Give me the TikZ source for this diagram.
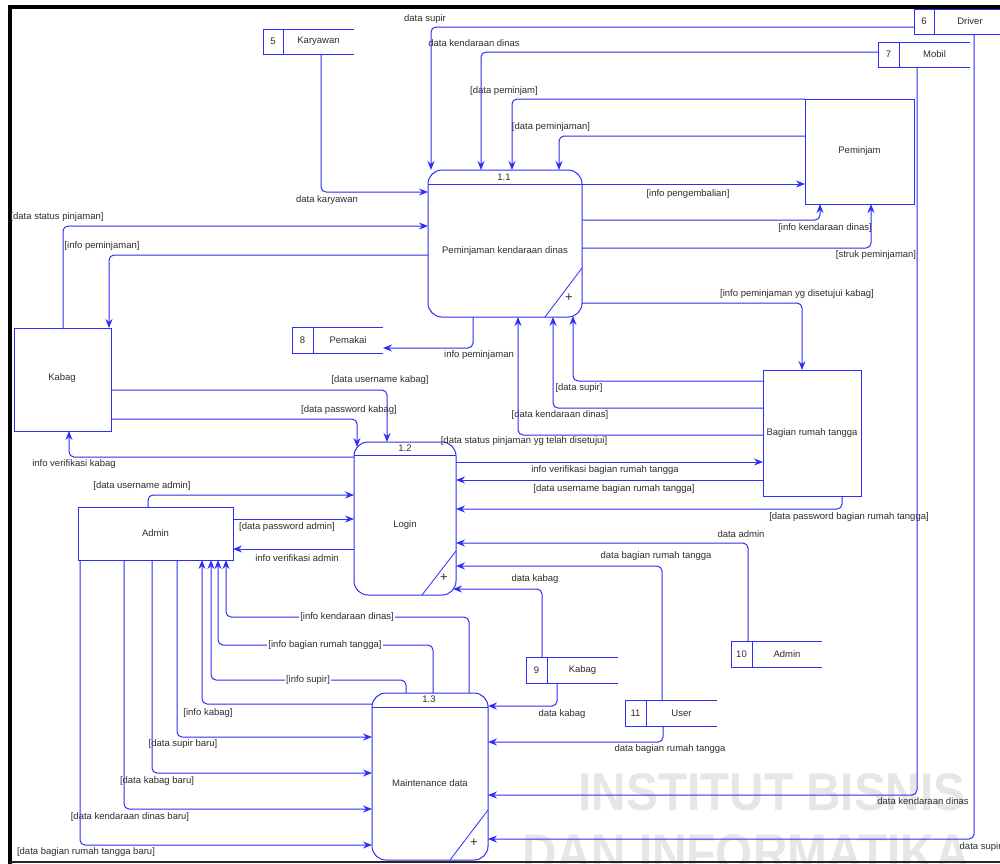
\documentclass[tikz,border=0pt]{standalone}
\usepackage{fontspec}
\setmainfont{Liberation Sans}
\usetikzlibrary{arrows.meta}
\definecolor{dfd}{RGB}{45,45,250}
\definecolor{txt}{RGB}{45,45,45}
\definecolor{wm}{RGB}{230,230,230}
\newcommand{\dstore}[8]{%
  \node[inner sep=0, outer sep=0, minimum width={#4-#2}, minimum height={#6-#5}, anchor=north west] (#1) at (#2,#5) {};
  \draw[dfd, line width=1pt] (#1.north east) -- (#1.north west) -- (#1.south west) -- (#1.south east);
  \draw[dfd, line width=1pt] (#3,#5) -- (#3,#6);
  \node (#1n) at ({(#2+#3)/2},{(#5+#6)/2}) {#7};
  \node (#1l) at ({(#3+#4)/2},{(#5+#6)/2}) {#8};
}
\begin{document}
\begin{tikzpicture}[x=1pt,y=-1pt,
  font=\fontsize{9.5}{11}\selectfont,
  every node/.style={text=txt},
  flow/.style={draw=dfd, line width=1pt, rounded corners=5pt, -{Stealth[length=9pt,width=7pt,inset=3pt]}},
  plain/.style={draw=dfd, line width=1pt},
  proc/.style={draw=dfd, line width=1pt, rounded corners=14pt, inner sep=0, outer sep=0},
  ext/.style={draw=dfd, line width=1pt, inner sep=0, outer sep=0},
  lbl/.style={inner sep=0.5pt},
  onl/.style={fill=white, inner sep=1pt},
  wmark/.style={text=wm, font=\fontsize{53}{60}\bfseries\selectfont, anchor=base, inner sep=0}
]
\clip (0,0) rectangle (1000,863);
\fill[white] (0,0) rectangle (1000,863);
% watermark text
\node[wmark] (wm1) at (772,810) {\scalebox{0.9}[1]{INSTITUT BISNIS}};
\node[wmark] (wm2) at (746,871) {\scalebox{0.9}[1]{DAN INFORMATIKA}};
% frame
\draw[black, line width=4pt] (1002,7) -- (8,7);
\draw[black, line width=4pt] (10,5) -- (10,865);
\draw[black!85, line width=1.5pt] (10,862) -- (1002,862);

% processes
\node[proc, minimum width=154, minimum height=147] (p11) at (505,243.5) {};
\node[proc, minimum width=102, minimum height=153] (p12) at (405,518.5) {};
\node[proc, minimum width=116, minimum height=167] (p13) at (430,776.5) {};
\draw[plain] (p11.west |- 0,184) -- (p11.east |- 0,184);
\draw[plain] (p12.west |- 0,455) -- (p12.east |- 0,455);
\draw[plain] (p13.west |- 0,707) -- (p13.east |- 0,707);
\draw[plain, line width=0.8pt] (p11.east |- 0,268) -- (545,0 |- p11.south);
\draw[plain, line width=0.8pt] (p12.east |- 0,551) -- (422,0 |- p12.south);
\draw[plain, line width=0.8pt] (p13.east |- 0,810) -- (450,0 |- p13.south);
\node (p11n) at (504,177) {1.1};
\node (p12n) at (405,448) {1.2};
\node (p13n) at (429,699.5) {1.3};
\node (p11t) at (505,251) {Peminjaman kendaraan dinas};
\node (p12t) at (405,525) {Login};
\node (p13t) at (430,783) {Maintenance data};
\node (p11p) at (569,298) {\fontsize{13}{13}\selectfont +};
\node (p12p) at (444,578) {\fontsize{13}{13}\selectfont +};
\node (p13p) at (474,843) {\fontsize{13}{13}\selectfont +};

% external entities
\node[ext, minimum width=109, minimum height=105] (pem) at (859.5,151.5) {Peminjam};
\node[ext, minimum width=97, minimum height=103] (kabag) at (62.5,379.5) {};
\node (kabagt) at (62,378) {Kabag};
\node[ext, minimum width=155, minimum height=53] (admin) at (155.5,533.5) {Admin};
\node[ext, minimum width=98, minimum height=126] (brt) at (812,433) {Bagian rumah tangga};

% data stores
\dstore{s5}{263}{283}{354}{29}{54}{5}{Karyawan}
\dstore{s6}{914}{934}{1006}{9}{34}{6}{Driver}
\dstore{s7}{878}{899}{970}{42}{67}{7}{Mobil}
\dstore{s8}{292}{313}{383}{327}{353}{8}{Pemakai}
\dstore{s9}{526}{547}{618}{657}{683}{9}{Kabag}
\dstore{s10}{731}{752}{822}{641}{667}{10}{Admin}
\dstore{s11}{625}{646}{717}{700}{726}{11}{User}

% flows into 1.1 from top
\draw[flow] (s6.west |- 0,27) -| (431,0 |- p11.north);
\node[lbl] (f1) at (425,19) {data supir};
\draw[flow] (s7.west |- 0,52) -| (481,0 |- p11.north);
\node[lbl] (f2) at (474,43) {data kendaraan dinas};
\draw[flow] (pem.north west) -| (512,0 |- p11.north);
\node[lbl] (f3) at (504,91) {[data peminjam]};
\draw[flow] (pem.west |- 0,136) -| (559,0 |- p11.north);
\node[lbl] (f4) at (551,127) {[data peminjaman]};
\draw[flow] (321,0 |- s5.south) |- (p11.west |- 0,192);
\node[lbl] (f5) at (327,200) {data karyawan};
\draw[flow] (63,0 |- kabag.north) |- (p11.west |- 0,226);
\node[lbl] (f6) at (57,217) {[data status pinjaman]};
\draw[flow] (p11.west |- 0,255) -| (109,0 |- kabag.north);
\node[lbl] (f7) at (102,246) {[info peminjaman]};
\draw[flow] (p11.east |- 0,184) -- (pem.west |- 0,184);
\node[lbl] (f8) at (688,194) {[info pengembalian]};
\draw[flow] (p11.east |- 0,220) -| (820,0 |- pem.south);
\node[lbl] (f9) at (825,228) {[info kendaraan dinas]};
\draw[flow] (p11.east |- 0,248) -| (871,0 |- pem.south);
\node[lbl] (f10) at (876,255) {[struk peminjaman]};
\draw[flow] (p11.east |- 0,303) -| (802,0 |- brt.north);
\node[lbl] (f11) at (797,294) {[info peminjaman yg disetujui kabag]};
\draw[flow] (473,0 |- p11.south) |- (s8.east |- 0,348);
\node[lbl] (f12) at (479,355) {info peminjaman};
\draw[flow] (brt.west |- 0,381) -| (573,316);
\node[lbl] (f13) at (579,388) {[data supir]};
\draw[flow] (brt.west |- 0,408) -| (553,0 |- p11.south);
\node[lbl] (f14) at (560,415) {[data kendaraan dinas]};
\draw[flow] (brt.west |- 0,435) -| (518,0 |- p11.south);
\node[lbl] (f15) at (524,441) {[data status pinjaman yg telah disetujui]};

% login flows
\draw[flow] (kabag.east |- 0,390) -| (387,0 |- p12.north);
\node[lbl] (f16) at (380,380) {[data username kabag]};
\draw[flow] (kabag.east |- 0,419) -| (357,447);
\node[lbl] (f17) at (349,410) {[data password kabag]};
\draw[flow] (p12.west |- 0,457) -| (69,0 |- kabag.south);
\node[lbl] (f18) at (74,464) {info verifikasi kabag};
\draw[flow] (148,0 |- admin.north) |- (p12.west |- 0,495);
\node[lbl] (f19) at (142,486) {[data username admin]};
\draw[flow] (admin.east |- 0,519) -- (p12.west |- 0,519);
\node[lbl] (f20) at (287,527) {[data password admin]};
\draw[flow] (p12.west |- 0,549) -- (admin.east |- 0,549);
\node[lbl] (f21) at (297,558) {info verifikasi admin};
\draw[flow] (p12.east |- 0,462) -- (brt.west |- 0,462);
\node[lbl] (f22) at (605,470) {info verifikasi bagian rumah tangga};
\draw[flow] (brt.west |- 0,480) -- (p12.east |- 0,480);
\node[lbl] (f23) at (614,489) {[data username bagian rumah tangga]};
\draw[flow] (842,0 |- brt.south) |- (p12.east |- 0,509);
\node[lbl] (f24) at (849,517) {[data password bagian rumah tangga]};
\draw[flow] (748,0 |- s10.north) |- (p12.east |- 0,543);
\node[lbl] (f25) at (741,534) {data admin};
\draw[flow] (662,0 |- s11.north) |- (p12.east |- 0,566);
\node[lbl] (f26) at (656,556) {data bagian rumah tangga};
\draw[flow] (542,0 |- s9.north) |- (453,589);
\node[lbl] (f27) at (535,579) {data kabag};

% maintenance flows
\draw[flow] (557,0 |- s9.south) |- (p13.east |- 0,706);
\node[lbl] (f28) at (562,714) {data kabag};
\draw[flow] (663,0 |- s11.south) |- (p13.east |- 0,742);
\node[lbl] (f29) at (670,749) {data bagian rumah tangga};
\draw[flow] (917,0 |- s7.south) |- (p13.east |- 0,795);
\node[lbl] (f30) at (923,801) {data kendaraan dinas};
\draw[flow] (974,0 |- s6.south) |- (p13.east |- 0,839);
\node[lbl, anchor=west] (f31) at (959,847) {data supir};

\draw[flow] (177,0 |- admin.south) |- (p13.west |- 0,737);
\node[lbl] (f32) at (183,744) {[data supir baru]};
\draw[flow] (152,0 |- admin.south) |- (p13.west |- 0,773);
\node[lbl] (f33) at (157,781) {[data kabag baru]};
\draw[flow] (124,0 |- admin.south) |- (p13.west |- 0,809);
\node[lbl] (f34) at (130,817) {[data kendaraan dinas baru]};
\draw[flow] (80,0 |- admin.south) |- (p13.west |- 0,845);
\node[lbl] (f35) at (86,852) {[data bagian rumah tangga baru]};

\draw[flow] (469,0 |- p13.north) |- (226,617) -- (226,0 |- admin.south);
\node[onl] (f36) at (347,617) {[info kendaraan dinas]};
\draw[flow] (433,0 |- p13.north) |- (218,645) -- (218,0 |- admin.south);
\node[onl] (f37) at (325,645) {[info bagian rumah tangga]};
\draw[flow] (406,0 |- p13.north) |- (211,680) -- (211,0 |- admin.south);
\node[onl] (f38) at (308,680) {[info supir]};
\draw[flow] (p13.west |- 0,704) -| (202,0 |- admin.south);
\node[lbl] (f39) at (208,713) {[info kabag]};
\end{tikzpicture}
\end{document}
